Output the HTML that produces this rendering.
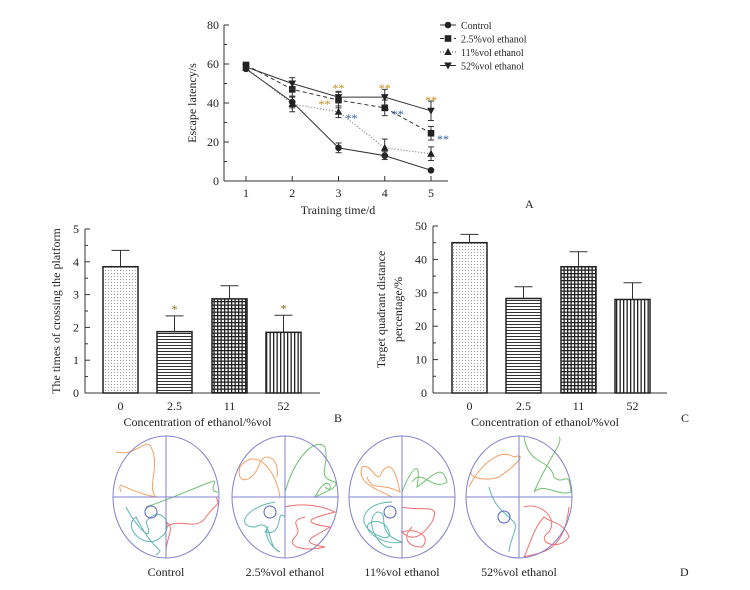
<!DOCTYPE html>
<html><head><meta charset="utf-8"><style>
body{margin:0;background:#fff;}
svg text{font-family:"Liberation Serif",serif;fill:#222;}
</style></head><body>
<svg id="fig" width="750" height="585" xmlns="http://www.w3.org/2000/svg">
<defs>
<pattern id="pDot" width="3" height="3" patternUnits="userSpaceOnUse"><rect width="3" height="3" fill="#fff"/><rect width="1" height="1" fill="#999"/></pattern>
<pattern id="pH" width="4" height="3" patternUnits="userSpaceOnUse"><rect width="4" height="3" fill="#fff"/><rect y="0" width="4" height="1" fill="#333"/></pattern>
<pattern id="pG" width="3.5" height="3.5" patternUnits="userSpaceOnUse"><rect width="3.5" height="3.5" fill="#fff"/><rect width="3.5" height="1.3" fill="#222"/><rect width="1.3" height="3.5" fill="#222"/></pattern>
<pattern id="pV" width="3.5" height="4" patternUnits="userSpaceOnUse"><rect width="3.5" height="4" fill="#fff"/><rect width="1.3" height="4" fill="#222"/></pattern>
</defs>
<g id="A"></g>
<g id="B"></g>
<g id="C"></g>
<g id="D"></g>
</svg>
<script>
const days=[1,2,3,4,5];
const aTicks=[0,20,40,60,80];
const seriesNames=["Control","2.5%vol ethanol","11%vol ethanol","52%vol ethanol"];
const ctrlVals=[57.5,40.5,17,13,5.5];
const e25Vals=[59.5,47,41.5,37.5,24.5];
const e11Vals=[58,39.5,35.5,17,14];
const e52Vals=[58.5,50,43,43,36];
const ctrlErr=[0.5,3,2.5,2,0.5];
const e25Err=[1,4,4,4,3.5];
const e11Err=[1,4,3,4.5,3.5];
const e52Err=[1,3,3,4,5];
const concCats=["0","2.5","11","52"];
const crossVals=[3.85,1.87,2.87,1.85];
const crossErr=[0.5,0.48,0.4,0.52];
const crossTicks=[0,1,2,3,4,5];
const quadVals=[45,28.3,37.8,28];
const quadErr=[2.5,3.5,4.5,5];
const quadTicks=[0,10,20,30,40,50];

const NS="http://www.w3.org/2000/svg";
function mk(parent,tag,attrs,txt){const e=document.createElementNS(NS,tag);for(const k in attrs)e.setAttribute(k,attrs[k]);if(txt!==undefined)e.textContent=txt;parent.appendChild(e);return e;}

// Panel A
const gA=document.getElementById('A');
const ax=d=>246+(d-1)*46.25, ay=v=>181-v*156/80;
let e=mk(gA,'line',{x1:224,y1:181,x2:448,y2:181,stroke:'#333','stroke-width':1});

e=mk(gA,'line',{x1:224,y1:25,x2:224,y2:181,stroke:'#333','stroke-width':1});

aTicks.forEach(t=>{mk(gA,'line',{x1:224,y1:ay(t),x2:229,y2:ay(t),stroke:'#333'});
 if(t<80)mk(gA,'line',{x1:224,y1:ay(t+10),x2:227,y2:ay(t+10),stroke:'#333'});
 e=mk(gA,'text',{x:219,y:ay(t)+4,'text-anchor':'end','font-size':12},t);
 });
days.forEach(d=>{mk(gA,'line',{x1:ax(d),y1:181,x2:ax(d),y2:176,stroke:'#333'});
 e=mk(gA,'text',{x:ax(d),y:197,'text-anchor':'middle','font-size':12},d);
 });
e=mk(gA,'text',{x:338,y:214,'text-anchor':'middle','font-size':12},'Training time/d');

e=mk(gA,'text',{x:0,y:0,'text-anchor':'middle','font-size':12,transform:'translate(196,103) rotate(-90)'},'Escape latency/s');

e=mk(gA,'text',{x:525,y:208,'font-size':12},'A');

const aSeries=[[ctrlVals,ctrlErr,'','circle'],[e25Vals,e25Err,'4,3','square'],[e11Vals,e11Err,'1,2','tri'],[e52Vals,e52Err,'','itri']];
function marker(g,kind,x,y){
 if(kind==='circle')return mk(g,'circle',{cx:x,cy:y,r:3.3,fill:'#222'});
 if(kind==='square')return mk(g,'rect',{x:x-3.3,y:y-3.3,width:6.6,height:6.6,fill:'#222'});
 if(kind==='tri')return mk(g,'path',{d:`M${x},${y-4}L${x+3.8},${y+3}L${x-3.8},${y+3}Z`,fill:'#222'});
 return mk(g,'path',{d:`M${x},${y+4}L${x+3.8},${y-3}L${x-3.8},${y-3}Z`,fill:'#222'});}
aSeries.forEach((s,i)=>{
 const g=mk(gA,'g',{});
 const pts=s[0].map((v,j)=>ax(days[j])+','+ay(v)).join(' ');
 const l=mk(g,'polyline',{points:pts,fill:'none',stroke:i===2?'#666':'#333','stroke-width':1,'stroke-dasharray':s[2]});
 
 s[0].forEach((v,j)=>{const x=ax(days[j]);
  mk(g,'line',{x1:x,y1:ay(v+s[1][j]),x2:x,y2:ay(v-s[1][j]),stroke:'#333'});
  mk(g,'line',{x1:x-3,y1:ay(v+s[1][j]),x2:x+3,y2:ay(v+s[1][j]),stroke:'#333'});
  mk(g,'line',{x1:x-3,y1:ay(v-s[1][j]),x2:x+3,y2:ay(v-s[1][j]),stroke:'#333'});
  const m=marker(g,s[3],x,ay(v));});
 const ly=25+i*13.5;
 mk(g,'line',{x1:440,y1:ly,x2:456,y2:ly,stroke:'#333','stroke-dasharray':s[2]});
 const lm=marker(g,s[3],448,ly);
 const lt=mk(g,'text',{x:461,y:ly+4,'font-size':10},seriesNames[i]);
 
});
const starsA=[[3,e52Vals,'#c58a1a',0,-11],[4,e52Vals,'#c58a1a',0,-11],[5,e52Vals,'#c58a1a',0,-13],[3,e25Vals,'#c58a1a',-14,2],[3,e11Vals,'#2a5aa0',13,4],[4,e25Vals,'#2a5aa0',13,4],[5,e25Vals,'#2a5aa0',12,4]];
starsA.forEach(s=>{const j=days.indexOf(s[0]);e=mk(gA,'text',{x:ax(s[0])+s[3],y:ay(s[1][j])+s[4]+6,'text-anchor':'middle','font-size':12,style:'fill:'+s[2]},'**');
 });

// Bar charts
function bars(gid,x0,xEnd,y0,yTop,ticks,vals,errs,title,titleLines,label,labelX,barX,stars){
 const g=document.getElementById(gid);const max=ticks[ticks.length-1];
 const sy=v=>y0-(y0-yTop)*v/max;
 let e=mk(g,'line',{x1:x0,y1:y0,x2:xEnd,y2:y0,stroke:'#333'});
 e=mk(g,'line',{x1:x0,y1:yTop,x2:x0,y2:y0,stroke:'#333'});
 ticks.forEach((t,i)=>{mk(g,'line',{x1:x0,y1:sy(t),x2:x0+5,y2:sy(t),stroke:'#333'});
  if(i<ticks.length-1)mk(g,'line',{x1:x0,y1:sy(t+(ticks[1]-ticks[0])/2),x2:x0+3,y2:sy(t+(ticks[1]-ticks[0])/2),stroke:'#333'});
  e=mk(g,'text',{x:x0-6,y:sy(t)+4,'text-anchor':'end','font-size':12},t);});
 const fills=['url(#pDot)','url(#pH)','url(#pG)','url(#pV)'];
 vals.forEach((v,i)=>{const bx=barX[i];const w=35;
  e=mk(g,'rect',{x:bx,y:sy(v),width:w,height:y0-sy(v),fill:fills[i],stroke:'#222','stroke-width':1.5});
  
  const cx=bx+w/2;
  mk(g,'line',{x1:cx,y1:sy(v),x2:cx,y2:sy(v+errs[i]),stroke:'#333'});
  mk(g,'line',{x1:cx-9,y1:sy(v+errs[i]),x2:cx+9,y2:sy(v+errs[i]),stroke:'#333'});
  e=mk(g,'text',{x:cx,y:y0+17,'text-anchor':'middle','font-size':12},concCats[i]);
  if(stars[i]){e=mk(g,'text',{x:cx,y:sy(v+errs[i])-3,'text-anchor':'middle','font-size':12,style:'fill:#8a6a10'},'*');}
 });
 e=mk(g,'text',{x:(x0+xEnd)/2-5,y:y0+33,'text-anchor':'middle','font-size':12},'Concentration of ethanol/%vol');
 
 titleLines.forEach(tl=>{e=mk(g,'text',{x:0,y:0,'text-anchor':'middle','font-size':12,transform:`translate(${tl[0]},${(y0+yTop)/2}) rotate(-90)`},tl[1]);
  });
 e=mk(g,'text',{x:labelX,y:y0+29,'font-size':12},label);
}
bars('B',85,320,393,229,crossTicks,crossVals,crossErr,'',[[60,'The times of crossing the platform']],'B',334,[103,157,212,266],[0,1,0,1]);
bars('C',433,667,393,226,quadTicks,quadVals,quadErr,'',[[385,'Target quadrant distance'],[402,'percentage/%']],'C',681,[452,506,561,615],[0,0,0,0]);

// Panel D
const gD=document.getElementById('D');
const poolX=[166,285,402,519];
const poolLabels=["Control","2.5%vol ethanol","11%vol ethanol","52%vol ethanol"];
const paths=[
 [["#f5a060","M-50,-45 C-30,-40 -20,-60 -15,-50 C-5,-30 -20,-10 -10,0 C-40,-5 -50,-20 -45,-5"],["#70c070","M-20,10 C10,0 30,-10 45,-15 C55,-20 40,-5 52,-5"],["#60b8b0","M-40,10 C-30,30 -10,50 -20,25 C-5,5 10,30 -5,40 C-20,55 -45,30 -30,20 C-10,60 0,50 -10,58"],["#f07070","M0,30 C15,20 30,35 40,20 C50,5 55,10 50,0 M0,55 C0,40 10,30 0,25"]],
 [["#f5a060","M-5,0 C-10,-30 -30,-50 -45,-30 C-50,-10 -30,-15 -25,-35 C-20,-45 -5,-40 -8,-20"],["#70c070","M0,-5 C10,-40 30,-60 40,-50 C45,-30 30,-20 50,-15 C55,-10 40,-5 30,0 C45,-30 50,0 40,-10"],["#60b8b0","M-10,5 C-40,10 -50,30 -30,30 C-10,20 -20,50 -5,55 C-30,40 -10,20 -20,35 C0,40 -10,10 0,20"],["#f07070","M0,10 C20,5 40,10 50,15 C30,20 10,25 45,30 C30,40 10,45 40,50 C20,55 0,50 10,40 C20,30 0,25 20,20"]],
 [["#f5a060","M-10,0 C-30,-10 -45,-15 -40,-30 C-30,-35 -25,-10 -20,-25 C-10,-40 -5,-20 -2,-5 C-20,-15 -30,-5 -35,-20"],["#70c070","M0,-5 C10,-30 20,-40 15,-10 C30,-20 40,-35 45,-15 C30,-5 20,-30 10,-15"],["#60b8b0","M-10,5 C-40,5 -50,30 -20,40 C-5,45 -15,20 -30,25 C-45,30 -20,50 0,45 C-30,35 -10,15 -25,15 C-40,25 -20,55 -10,50"],["#f07070","M0,10 C20,15 40,5 30,25 C20,40 10,45 0,35 C15,30 30,40 20,50 C5,50 0,40 10,30"]],
 [["#f5a060","M-50,-10 C-40,-30 -20,-50 -5,-40 C10,-45 -5,-30 -20,-20 C-35,-15 -50,-20 -48,-25"],["#70c070","M5,-60 C10,-30 30,-40 35,-20 C45,-10 50,-30 52,-5 C40,0 25,-15 15,-5 C30,-40 45,-55 40,-60"],["#60b8b0","M-30,-10 C-25,10 -15,15 -5,25 C0,30 -10,45 -10,55"],["#f07070","M5,10 C20,5 40,20 30,35 C15,45 40,55 50,40 C45,25 30,25 25,20 C15,30 10,50 5,60 C20,55 45,58 50,10"]]];
const plat=[[-15,15],[-15,15],[-12,15],[-15,20]];
poolX.forEach((cx,i)=>{const cy=497;
 const g=mk(gD,'g',{});
 paths[i].forEach(p=>mk(g,'path',{d:p[1],transform:`translate(${cx},${cy})`,fill:'none',stroke:p[0],'stroke-width':1}));
 mk(g,'ellipse',{cx:cx,cy:cy,rx:53,ry:61,fill:'none',stroke:'#8080d0','stroke-width':1});
 mk(g,'line',{x1:cx-53,y1:cy,x2:cx+53,y2:cy,stroke:'#8080d0'});
 mk(g,'line',{x1:cx,y1:cy-61,x2:cx,y2:cy+61,stroke:'#8080d0'});
 mk(g,'circle',{cx:cx+plat[i][0],cy:cy+plat[i][1],r:6,fill:'none',stroke:'#5060c0'});
 const t=mk(gD,'text',{x:cx,y:576,'text-anchor':'middle','font-size':12},poolLabels[i]);
 
});
e=mk(gD,'text',{x:680,y:576,'font-size':12},'D');
</script>
</body></html>
